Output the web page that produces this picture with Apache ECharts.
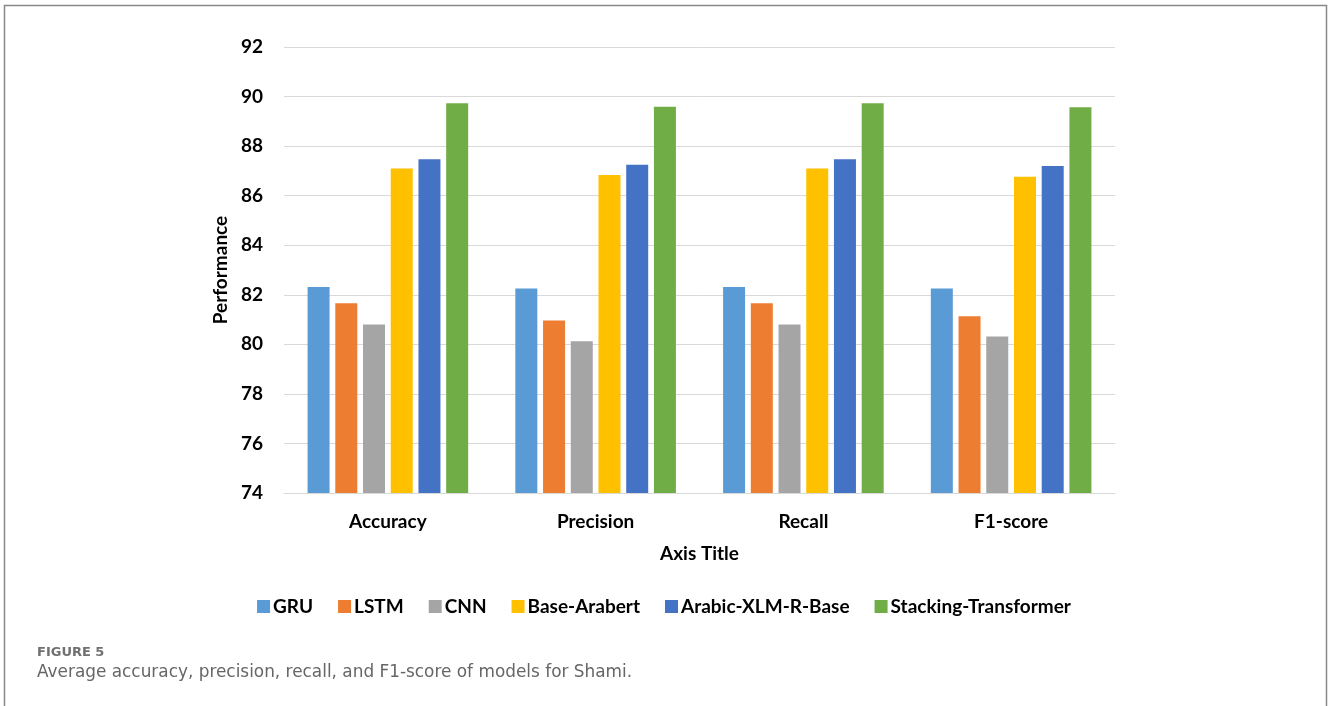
<!DOCTYPE html>
<html>
<head>
<meta charset="utf-8">
<script src="https://cdn.jsdelivr.net/npm/echarts@6/dist/echarts.min.js"></script>
<style>
html,body{margin:0;padding:0;background:#fff;}
#chart{width:1328px;height:706px;}
</style>
</head>
<body>
<div id="chart"></div>
<script>
const categories = ["Accuracy", "Precision", "Recall", "F1-score"];
const seriesNames = ["GRU", "LSTM", "CNN", "Base-Arabert", "Arabic-XLM-R-Base", "Stacking-Transformer"];
const gru = [82.31, 82.25, 82.31, 82.25];
const lstm = [81.66, 80.96, 81.66, 81.13];
const cnn = [80.80, 80.12, 80.80, 80.32];
const baseArabert = [87.10, 86.83, 87.10, 86.76];
const xlmR = [87.47, 87.25, 87.47, 87.20];
const stacking = [89.73, 89.59, 89.73, 89.57];
const yTicks = [74, 76, 78, 80, 82, 84, 86, 88, 90, 92];
const colors = ["#5B9BD5", "#ED7D31", "#A5A5A5", "#FFC000", "#4472C4", "#70AD47"];
const seriesValues = [gru, lstm, cnn, baseArabert, xlmR, stacking];

const chart = echarts.init(document.getElementById('chart'));
const font = 'Lato';
const fs = 19;
chart.setOption({
  backgroundColor: '#fff',
  animation: false,
  grid: {left: 284, right: 213, top: 47, bottom: 213, containLabel: false},
  legend: {
    data: seriesNames,
    top: 592,
    left: 'center',
    itemWidth: 13,
    itemHeight: 13,
    itemGap: 25,
    icon: 'rect',
    textStyle: {fontFamily: font, fontWeight: 'bold', fontSize: fs, color: '#000', padding: [0,0,0,-2]}
  },
  xAxis: {
    type: 'category',
    data: categories,
    axisLine: {show: true, lineStyle: {color: '#D9D9D9', width: 1}},
    axisTick: {show: false},
    axisLabel: {fontFamily: font, fontWeight: 'bold', fontSize: fs, color: '#000', margin: 19},
    name: 'Axis Title',
    nameLocation: 'middle',
    nameGap: 51,
    nameTextStyle: {fontFamily: font, fontWeight: 'bold', fontSize: fs, color: '#000'}
  },
  yAxis: {
    type: 'value',
    min: yTicks[0],
    max: yTicks[yTicks.length - 1],
    interval: 2,
    axisLine: {show: false},
    axisTick: {show: false},
    splitLine: {lineStyle: {color: '#D9D9D9', width: 1}},
    axisLabel: {fontFamily: font, fontWeight: 'bold', fontSize: fs, color: '#000', margin: 21},
    name: 'Performance',
    nameLocation: 'middle',
    nameGap: 39,
    nameRotate: 90,
    nameTextStyle: {fontFamily: font, fontWeight: 'bold', fontSize: fs, color: '#000'}
  },
  series: seriesNames.map((n, i) => ({
    name: n,
    type: 'bar',
    data: seriesValues[i],
    barWidth: 22,
    barGap: '26%',
    itemStyle: {color: colors[i]}
  })),
  graphic: [
    {type: 'rect', shape: {x: 4.5, y: 5.5, width: 1322, height: 720}, style: {fill: 'none', stroke: '#888', lineWidth: 1.5}, silent: true},
    {type: 'text', left: 37, top: 646, style: {text: 'FIGURE 5', fontFamily: 'DejaVu Sans', fontWeight: 'bold', fontSize: 13, fill: '#707070'}},
    {type: 'text', left: 37, top: 664, style: {text: 'Average accuracy, precision, recall, and F1-score of models for Shami.', fontFamily: 'DejaVu Sans', fontSize: 16.9, fill: '#666'}}
  ]
});
</script>
</body>
</html>
